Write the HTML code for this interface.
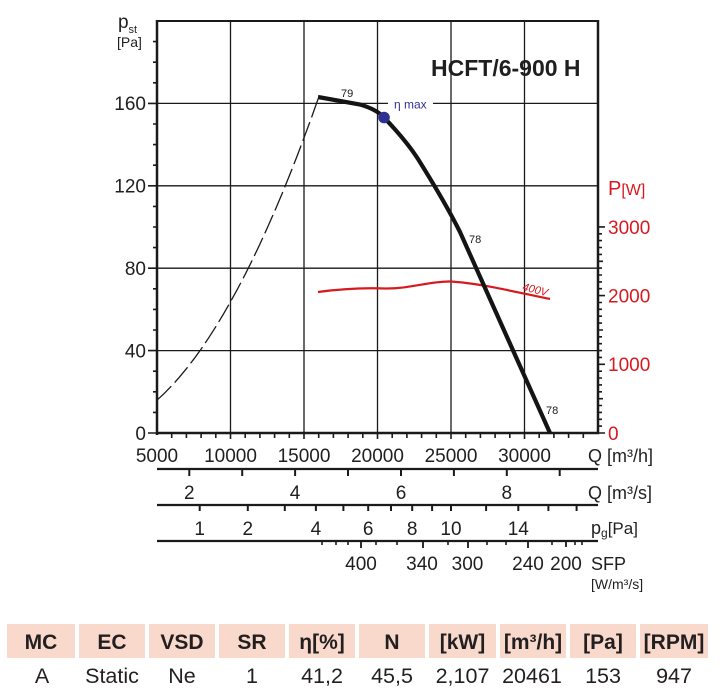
<!DOCTYPE html>
<html><head><meta charset="utf-8"><style>
html,body{margin:0;padding:0;background:#fff;}
svg{display:block;font-family:"Liberation Sans",Arial,sans-serif;}
</style></head><body>
<svg width="720" height="695" viewBox="0 0 720 695" xmlns="http://www.w3.org/2000/svg">
<rect width="720" height="695" fill="#fff"/>
<!-- grid -->
<g stroke="#1a1a1a" stroke-width="1.3" fill="none">
<path d="M230.5 21V433M304 21V433M377.5 21V433M451 21V433M524.5 21V433"/>
<path d="M157 350.6H598M157 268.2H598M157 185.8H598M157 103.4H598"/>
</g>
<!-- frame -->
<g stroke="#1a1a1a" fill="none">
<path d="M157 21H598" stroke-width="2"/>
<path d="M598 20V434" stroke-width="2.5"/>
<path d="M157 20V435" stroke-width="2.5"/>
<path d="M156 433H599" stroke-width="2.6"/>
</g>
<!-- left ticks -->
<g stroke="#1a1a1a" stroke-width="1.6" fill="none">
<path d="M153 412.4h4M153 391.8h4M153 371.2h4M153 330h4M153 309.4h4M153 288.8h4M153 247.6h4M153 227h4M153 206.4h4M153 165.2h4M153 144.6h4M153 124h4M153 82.8h4M153 62.2h4M153 41.6h4"/>
<path d="M148 433h9M148 350.6h9M148 268.2h9M148 185.8h9M148 103.4h9"/>
</g>
<!-- right ticks -->
<g stroke="#1a1a1a" stroke-width="1.6" fill="none">
<path d="M598 426.1h4M598 419.3h4M598 412.4h4M598 405.5h4M598 391.8h4M598 384.9h4M598 378h4M598 371.2h4M598 357.4h4M598 350.6h4M598 343.7h4M598 336.8h4M598 323.1h4M598 316.2h4M598 309.3h4M598 302.5h4M598 288.7h4M598 281.9h4M598 275h4M598 268.1h4M598 254.4h4M598 247.5h4M598 240.6h4M598 233.8h4"/>
<path d="M598 398.7h5M598 330h5M598 261.3h5"/>
<path d="M598 433h7M598 364.3h7M598 295.6h7M598 226.9h7"/>
</g>
<!-- bottom Q ticks -->
<g stroke="#1a1a1a" stroke-width="1.6" fill="none">
<path d="M171.7 433v5M186.4 433v5M201.1 433v5M215.8 433v5M245.2 433v5M259.9 433v5M274.6 433v5M289.3 433v5M318.7 433v5M333.4 433v5M348.1 433v5M362.8 433v5M392.2 433v5M406.9 433v5M421.6 433v5M436.3 433v5M465.7 433v5M480.4 433v5M495.1 433v5M509.8 433v5M539.2 433v5M553.9 433v5M568.6 433v5M583.3 433v5"/>
<path d="M230.5 433v6M304 433v6M377.5 433v6M451 433v6M524.5 433v6"/>
</g>
<!-- secondary axes -->
<g stroke="#1a1a1a" fill="none">
<path d="M157 469H598M157 505H598M157 541H598" stroke-width="2.3"/>
<path d="M189.3 469v7M242.2 469v7M295.1 469v7M348 469v7M401 469v7M453.9 469v7M506.8 469v7M559.7 469v7" stroke-width="2"/>
<path d="M199.7 505v6M247.8 505v6M284.8 505v6M315.9 505v6M343.4 505v6M368.2 505v6M391 505v6M412.2 505v6M432.1 505v6M451 505v6M486.1 505v6M518.3 505v6M548.4 505v6M576.6 505v6" stroke-width="2"/>
<path d="M322 541v4M336 541v4M348 541v4M376 541v4M397 541v4M448 541v4M487 541v4M506 541v4M552 541v4M575 541v4M582 541v4" stroke-width="1.6"/>
<path d="M361 541v7M423 541v7M468 541v7M528 541v7M566 541v6" stroke-width="1.8"/>
</g>
<!-- dashed system curve -->
<path d="M157,400.2 L164.35,393.3 L171.7,385.8 L179.05,377.6 L186.4,368.7 L193.75,359.2 L201.1,349.1 L208.45,338.2 L215.8,326.7 L223.15,314.6 L230.5,301.8 L237.85,288.4 L245.2,274.3 L252.55,259.6 L259.9,244.1 L267.25,228 L274.6,211.3 L281.95,194 L289.3,175.9 L296.65,157.2 L304,137.8 L311.35,118 L318.7,97.2" fill="none" stroke="#1a1a1a" stroke-width="1.3" stroke-dasharray="20 5"/>
<!-- power curve -->
<path d="M318,292 C340,289 360,287.5 385,288.5 C410,289 430,281 450,281.5 C480,283 520,293 550,299" fill="none" stroke="#d71920" stroke-width="2.2"/>
<!-- pressure curve -->
<path d="M318,97 L360,104.5 C372,108 379,112 384,117.5 C396,130 409,145 418,159 C433,183 449,210 460,232 L550,433" fill="none" stroke="#141414" stroke-width="4.2"/>
<!-- eta max -->
<rect x="388" y="97" width="45" height="12" fill="#fff"/>
<text x="394" y="108.5" font-size="12" fill="#2e3192">η max</text>
<circle cx="384" cy="117.5" r="5.8" fill="#2e3192"/>
<!-- small labels -->
<text x="341" y="97" font-size="11" fill="#1a1a1a">79</text>
<text x="469" y="243" font-size="11" fill="#1a1a1a">78</text>
<text x="546" y="414" font-size="11" fill="#1a1a1a">78</text>
<text x="522" y="290" font-size="11" font-style="italic" fill="#d71920" transform="rotate(14 522 290)">400V</text>
<!-- title -->
<text x="431" y="76" font-size="23" font-weight="bold" fill="#1f1f1f">HCFT/6-900 H</text>
<!-- left axis labels -->
<g font-size="19" fill="#1f1f1f" text-anchor="end">
<text x="146" y="110">160</text>
<text x="146" y="192.5">120</text>
<text x="146" y="275">80</text>
<text x="146" y="357.5">40</text>
<text x="146" y="440">0</text>
</g>
<text x="118" y="28" font-size="19" fill="#1f1f1f">p</text>
<text x="128.5" y="33" font-size="11" fill="#1f1f1f">st</text>
<text x="117" y="47" font-size="14" fill="#1f1f1f">[Pa]</text>
<!-- right axis labels -->
<g font-size="19" fill="#d71920">
<text x="608" y="234">3000</text>
<text x="608" y="302.5">2000</text>
<text x="608" y="371">1000</text>
<text x="608" y="440">0</text>
</g>
<text x="608" y="195" font-size="20" fill="#d71920">P<tspan font-size="16">[W]</tspan></text>
<!-- bottom labels -->
<g font-size="19" fill="#1f1f1f" text-anchor="middle">
<text x="157" y="462">5000</text>
<text x="230.5" y="462">10000</text>
<text x="304" y="462">15000</text>
<text x="377.5" y="462">20000</text>
<text x="451" y="462">25000</text>
<text x="524.5" y="462">30000</text>
<text x="189.3" y="499">2</text>
<text x="295.1" y="499">4</text>
<text x="401" y="499">6</text>
<text x="506.8" y="499">8</text>
<text x="199.7" y="535">1</text>
<text x="247.8" y="535">2</text>
<text x="315.9" y="535">4</text>
<text x="368.2" y="535">6</text>
<text x="412.2" y="535">8</text>
<text x="451" y="535">10</text>
<text x="518.3" y="535">14</text>
<text x="361" y="570">400</text>
<text x="422" y="570">340</text>
<text x="467.5" y="570">300</text>
<text x="528" y="570">240</text>
<text x="566" y="570">200</text>
</g>
<g font-size="18" fill="#1f1f1f">
<text x="588" y="462">Q [m³/h]</text>
<text x="588" y="499">Q [m³/s]</text>
<text x="591" y="534">p<tspan font-size="12" dy="3">g</tspan><tspan font-size="17" dy="-3">[Pa]</tspan></text>
<text x="591" y="570">SFP</text>
<text x="591" y="589" font-size="14">[W/m³/s]</text>
</g>
<!-- table -->
<g fill="#f8d9cc">
<rect x="7" y="624" width="68" height="34"/>
<rect x="79" y="624" width="66" height="34"/>
<rect x="149" y="624" width="66" height="34"/>
<rect x="219" y="624" width="66" height="34"/>
<rect x="289" y="624" width="66" height="34"/>
<rect x="359" y="624" width="66" height="34"/>
<rect x="429" y="624" width="67" height="34"/>
<rect x="500" y="624" width="66" height="34"/>
<rect x="570" y="624" width="66" height="34"/>
<rect x="640" y="624" width="68" height="34"/>
</g>
<g font-size="21" font-weight="bold" fill="#231f20" text-anchor="middle">
<text x="41" y="649">MC</text>
<text x="112" y="649">EC</text>
<text x="182" y="649">VSD</text>
<text x="252" y="649">SR</text>
<text x="322" y="649">η[%]</text>
<text x="392" y="649">N</text>
<text x="462.5" y="649">[kW]</text>
<text x="533" y="649">[m³/h]</text>
<text x="603" y="649">[Pa]</text>
<text x="674" y="649">[RPM]</text>
</g>
<g font-size="21.5" fill="#231f20" text-anchor="middle">
<text x="42" y="683">A</text>
<text x="112" y="683">Static</text>
<text x="182" y="683">Ne</text>
<text x="252" y="683">1</text>
<text x="322" y="683">41,2</text>
<text x="392" y="683">45,5</text>
<text x="462.5" y="683">2,107</text>
<text x="532" y="683">20461</text>
<text x="603" y="683">153</text>
<text x="674" y="683">947</text>
</g>
</svg>
</body></html>
